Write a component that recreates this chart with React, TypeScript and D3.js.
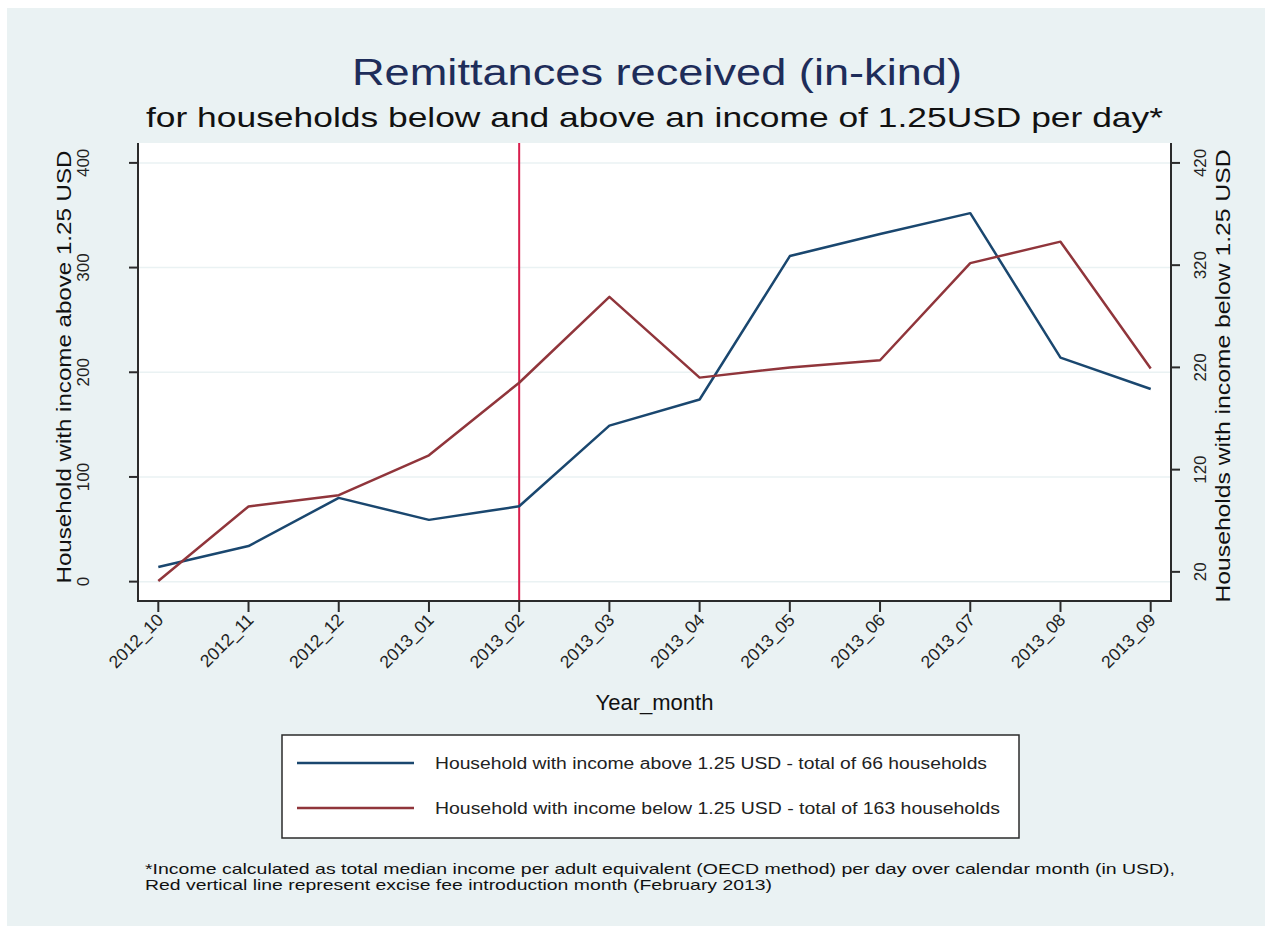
import React from "react";
import * as d3 from "d3";

const months = ["2012_10","2012_11","2012_12","2013_01","2013_02","2013_03","2013_04","2013_05","2013_06","2013_07","2013_08","2013_09"];
const aboveValues = [14, 34, 80, 59, 72, 149, 174, 311, 332, 352, 214, 184];
const belowValues = [11, 84, 95, 134, 205, 289, 210, 220, 227, 322, 343, 219];
const leftTicks = [0, 100, 200, 300, 400];
const rightTicks = [20, 120, 220, 320, 420];
const eventMonth = "2013_02";

const titleText = "Remittances received (in-kind)";
const subtitleText = "for households below and above an income of 1.25USD per day*";
const leftTitle = "Household with income above 1.25 USD";
const rightTitle = "Households with income below 1.25 USD";
const xTitle = "Year_month";
const legendLabels = [
  "Household with income above 1.25 USD - total of 66 households",
  "Household with income below 1.25 USD - total of 163 households",
];
const footLines = [
  "*Income calculated as total median income per adult equivalent (OECD method) per day over calendar month (in USD),",
  "Red vertical line represent excise fee introduction month (February 2013)",
];

const W = 1273, H = 926;
const plot = { left: 138, right: 1171, top: 143, bottom: 601 };
const BLUE = "#1a476f";
const RED = "#90353b";
const FONT = "'Liberation Sans', Arial, sans-serif";

export default function App() {
  const x = d3.scalePoint<string>().domain(months).range([plot.left, plot.right]).padding(0.225);
  const yL = d3.scaleLinear().domain([-18.5, 419]).range([plot.bottom, plot.top]);
  const yR = d3.scaleLinear().domain([-8.5, 439.5]).range([plot.bottom, plot.top]);

  const lineL = d3.line<number>().x((_, i) => x(months[i])!).y((d) => yL(d));
  const lineR = d3.line<number>().x((_, i) => x(months[i])!).y((d) => yR(d));

  const cx = (plot.left + plot.right) / 2;

  return (
    <svg width={W} height={H} style={{ position: "absolute", left: 0, top: 0, fontFamily: FONT }}>
      <rect x={0} y={0} width={W} height={H} fill="#ffffff" />
      <rect x={7} y={8} width={1258} height={918} fill="#eaf2f3" />
      <rect x={plot.left} y={plot.top} width={plot.right - plot.left} height={plot.bottom - plot.top} fill="#ffffff" />

      {/* titles */}
      <text x={657} y={85} textAnchor="middle" fontSize={37} fill="#1e2d5a" textLength={610} lengthAdjust="spacingAndGlyphs">{titleText}</text>
      <text x={654.5} y={127} textAnchor="middle" fontSize={28} fill="#111" textLength={1017} lengthAdjust="spacingAndGlyphs">{subtitleText}</text>

      {/* gridlines */}
      {leftTicks.map((t) => (
        <line key={"g" + t} x1={plot.left} x2={plot.right} y1={yL(t)} y2={yL(t)} stroke="#eaf2f3" strokeWidth={1.5} />
      ))}

      {/* event line */}
      <line x1={x(eventMonth)} x2={x(eventMonth)} y1={plot.top} y2={plot.bottom} stroke="#d81e4d" strokeWidth={2} />

      {/* series */}
      <path d={lineL(aboveValues)!} fill="none" stroke={BLUE} strokeWidth={2.5} strokeLinejoin="round" />
      <path d={lineR(belowValues)!} fill="none" stroke={RED} strokeWidth={2.5} strokeLinejoin="round" />

      {/* axes */}
      <line x1={plot.left} x2={plot.left} y1={plot.top} y2={plot.bottom + 1} stroke="#2b2b2b" strokeWidth={2} />
      <line x1={plot.right} x2={plot.right} y1={plot.top} y2={plot.bottom + 1} stroke="#2b2b2b" strokeWidth={2} />
      <line x1={plot.left - 1} x2={plot.right + 1} y1={plot.bottom} y2={plot.bottom} stroke="#2b2b2b" strokeWidth={2} />

      {leftTicks.map((t) => (
        <g key={"l" + t}>
          <line x1={plot.left - 9} x2={plot.left} y1={yL(t)} y2={yL(t)} stroke="#2b2b2b" strokeWidth={2} />
          <text transform={`translate(89,${yL(t)}) rotate(-90)`} textAnchor="middle" fontSize={17} fill="#222">{t}</text>
        </g>
      ))}
      {rightTicks.map((t) => (
        <g key={"r" + t}>
          <line x1={plot.right} x2={plot.right + 9} y1={yR(t)} y2={yR(t)} stroke="#2b2b2b" strokeWidth={2} />
          <text transform={`translate(1206,${yR(t)}) rotate(-90)`} textAnchor="middle" fontSize={17} fill="#222">{t}</text>
        </g>
      ))}
      {months.map((m) => (
        <g key={"x" + m}>
          <line x1={x(m)} x2={x(m)} y1={plot.bottom} y2={plot.bottom + 11} stroke="#2b2b2b" strokeWidth={2} />
          <text transform={`translate(${x(m)! + 6},${plot.bottom + 20}) rotate(-45)`} textAnchor="end" fontSize={17.5} fill="#222">{m}</text>
        </g>
      ))}

      {/* axis titles */}
      <text transform={`translate(71,367) rotate(-90)`} textAnchor="middle" fontSize={20} fill="#111" textLength={433} lengthAdjust="spacingAndGlyphs">{leftTitle}</text>
      <text transform={`translate(1230,376) rotate(-90)`} textAnchor="middle" fontSize={20} fill="#111" textLength={453} lengthAdjust="spacingAndGlyphs">{rightTitle}</text>
      <text x={cx} y={710} textAnchor="middle" fontSize={22} fill="#111">{xTitle}</text>

      {/* legend */}
      <rect x={282} y={735} width={737} height={103} fill="#ffffff" stroke="#2b2b2b" strokeWidth={1.5} />
      {[BLUE, RED].map((c, i) => (
        <g key={"lg" + i}>
          <line x1={297} x2={414} y1={763 + i * 45} y2={763 + i * 45} stroke={c} strokeWidth={2.5} />
          <text x={435} y={769 + i * 45} fontSize={16} fill="#222" textLength={i === 0 ? 552 : 565} lengthAdjust="spacingAndGlyphs">{legendLabels[i]}</text>
        </g>
      ))}

      {/* footnote */}
      <text x={145} y={874} fontSize={15} fill="#111" textLength={1030} lengthAdjust="spacingAndGlyphs">{footLines[0]}</text>
      <text x={145} y={890} fontSize={15} fill="#111" textLength={627} lengthAdjust="spacingAndGlyphs">{footLines[1]}</text>
    </svg>
  );
}
